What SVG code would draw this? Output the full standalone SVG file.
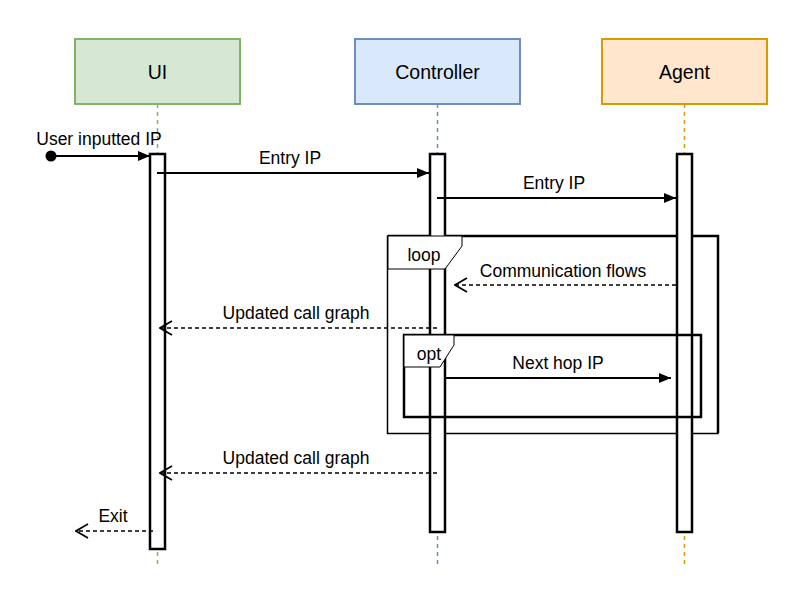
<svg xmlns="http://www.w3.org/2000/svg" width="809" height="598" viewBox="0 0 809 598">
<style>
text{font-family:"Liberation Sans",Arial,sans-serif;fill:#000}
.hd{font-size:19.5px;text-anchor:middle}
.lb{font-size:17.5px;text-anchor:middle}
.bar{fill:#fff;stroke:#000;stroke-width:2.5}
.msg{stroke:#000;stroke-width:2;fill:none}
.ret{stroke:#000;stroke-width:1.7;fill:none;stroke-dasharray:4,3}
.life{stroke-width:1.5;stroke-dasharray:4,4;fill:none}
.tag{fill:#fff;stroke:#000;stroke-width:1}
</style>
<defs>
<marker id="fa" viewBox="0 0 12 10" refX="12" refY="5" markerWidth="12" markerHeight="10" markerUnits="userSpaceOnUse" orient="auto">
<path d="M0,0 L12,5 L0,10 Z" fill="#000"/>
</marker>
<marker id="oa" viewBox="0 0 14 16" refX="13" refY="8" markerWidth="14" markerHeight="16" markerUnits="userSpaceOnUse" orient="auto">
<path d="M1,1 L13,8 L1,15" fill="none" stroke="#000" stroke-width="1.7"/>
</marker>
</defs>
<g id="lifelines">
<line class="life" x1="157.5" y1="104" x2="157.5" y2="566" stroke="#82b366"/>
<line class="life" x1="437.5" y1="104" x2="437.5" y2="566" stroke="#6c8ebf"/>
<line class="life" x1="684.5" y1="104" x2="684.5" y2="566" stroke="#d79b00"/>
</g>
<g id="ui">
<rect x="75" y="39" width="165" height="65" fill="#d5e8d4" stroke="#82b366" stroke-width="2"/>
<text class="hd" x="157.5" y="79">UI</text>
</g>
<g id="controller">
<rect x="355" y="39" width="165" height="65" fill="#dae8fc" stroke="#6c8ebf" stroke-width="2"/>
<text class="hd" x="437.5" y="79">Controller</text>
</g>
<g id="agent">
<rect x="602" y="39" width="165" height="65" fill="#ffe6cc" stroke="#d79b00" stroke-width="2"/>
<text class="hd" x="684.5" y="79">Agent</text>
</g>
<g id="loop">
<rect x="387.5" y="236" width="330.5" height="197.5" fill="none" stroke="#000" stroke-width="1.5"/>
<path d="M388,236 H718 V433" fill="none" stroke="#000" stroke-width="2.5"/>
</g>
<g id="bars">
<rect id="ui-bar" class="bar" x="150" y="154" width="15" height="395"/>
<rect id="controller-bar" class="bar" x="430" y="154" width="15" height="378"/>
<rect id="agent-bar" class="bar" x="677" y="154" width="15" height="378"/>
</g>
<g id="loop-tag">
<path class="tag" d="M388,236 H462 V246 L445,269 H388 Z"/>
<text class="lb" x="424" y="261">loop</text>
</g>
<g id="opt">
<rect x="404" y="335" width="297" height="82" fill="none" stroke="#000" stroke-width="2.5"/>
<path class="tag" d="M404,335 H454 V345 L440,367 H404 Z"/>
<text class="lb" x="429" y="360">opt</text>
</g>
<g id="connectors">
<circle cx="51" cy="156" r="5.5" fill="#000"/>
<line class="msg" x1="51" y1="156" x2="150" y2="156" marker-end="url(#fa)"/>
<text class="lb" x="99" y="144.5">User inputted IP</text>
<line class="msg" x1="157" y1="173" x2="429" y2="173" marker-end="url(#fa)"/>
<text class="lb" x="290" y="164">Entry IP</text>
<line class="msg" x1="437" y1="198" x2="676" y2="198" marker-end="url(#fa)"/>
<text class="lb" x="554" y="189">Entry IP</text>
<line class="ret" x1="676" y1="285" x2="455" y2="285" marker-end="url(#oa)"/>
<text class="lb" x="563" y="276.5">Communication flows</text>
<line class="ret" x1="437" y1="328" x2="160" y2="328" marker-end="url(#oa)"/>
<text class="lb" x="296" y="318.5">Updated call graph</text>
<line class="msg" x1="446" y1="378" x2="671" y2="378" marker-end="url(#fa)"/>
<text class="lb" x="558" y="368.5">Next hop IP</text>
<line class="ret" x1="437" y1="473" x2="160" y2="473" marker-end="url(#oa)"/>
<text class="lb" x="296" y="463.5">Updated call graph</text>
<line class="ret" x1="153" y1="531" x2="76" y2="531" marker-end="url(#oa)"/>
<text class="lb" x="113" y="521.5">Exit</text>
</g>
</svg>
